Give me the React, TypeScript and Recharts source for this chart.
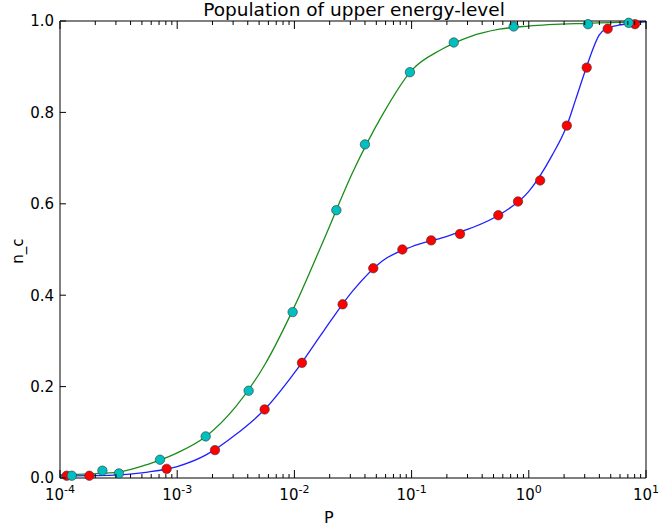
import { ComposedChart, Line, Scatter, XAxis, YAxis, ZAxis } from 'recharts'

// fitted curves (P, n_c)
const greenFitP = [1e-4, 1.78e-4, 3.16e-4, 5.62e-4, 1e-3, 1.78e-3, 3.16e-3, 5.62e-3, 1e-2, 1.78e-2, 3.16e-2, 5.62e-2, 0.1, 0.178, 0.316, 0.562, 1, 3.16, 10]
const greenFitN = [0.0066, 0.009, 0.013, 0.03, 0.055, 0.092, 0.156, 0.249, 0.375, 0.521, 0.67, 0.794, 0.892, 0.937, 0.966, 0.982, 0.989, 0.995, 0.998]

const blueFitP = [1e-4, 1.78e-4, 3.16e-4, 5.62e-4, 1e-3, 1.78e-3, 3.16e-3, 5.62e-3, 1e-2, 1.78e-2, 3.16e-2, 5.62e-2, 0.1, 0.178, 0.316, 0.562, 1, 1.58, 2.11, 2.51, 3.16, 3.63, 3.98, 4.47, 5.62, 7.94, 10]
const blueFitN = [0.004, 0.005, 0.007, 0.013, 0.025, 0.051, 0.095, 0.151, 0.23, 0.322, 0.41, 0.475, 0.506, 0.525, 0.546, 0.576, 0.627, 0.706, 0.771, 0.828, 0.905, 0.947, 0.969, 0.982, 0.99, 0.995, 0.999]

// measured points
const cyanP = [1.26e-4, 2.3e-4, 3.18e-4, 7.13e-4, 1.75e-3, 4.07e-3, 9.66e-3, 0.0228, 0.04, 0.0968, 0.229, 0.743, 3.2, 7.12]
const cyanN = [0.005, 0.016, 0.01, 0.04, 0.091, 0.191, 0.363, 0.586, 0.73, 0.888, 0.953, 0.988, 0.993, 0.996]

const redP = [1.14e-4, 1.78e-4, 8.13e-4, 2.1e-3, 5.57e-3, 0.0116, 0.0258, 0.0471, 0.0834, 0.147, 0.259, 0.549, 0.809, 1.25, 2.11, 3.12, 4.71, 8.05]
const redN = [0.005, 0.005, 0.02, 0.061, 0.15, 0.252, 0.38, 0.459, 0.5, 0.52, 0.534, 0.575, 0.605, 0.651, 0.771, 0.898, 0.983, 0.993]

const majorTicks = [1e-4, 1e-3, 1e-2, 1e-1, 1, 10]
const exponents = ['-4', '-3', '-2', '-1', '0', '1']
const yTicks = [0, 0.2, 0.4, 0.6, 0.8, 1.0]

const minorTicks = majorTicks.slice(0, -1).flatMap((d) => [2, 3, 4, 5, 6, 7, 8, 9].map((m) => m * d))
const xTicks = [...majorTicks, ...minorTicks]

const zip = (p: number[], n: number[]) => p.map((x, i) => ({ x, y: n[i] }))

const FONT = '"DejaVu Sans", sans-serif'

const BottomTick = (props: any) => {
  const { x, y, payload } = props
  const i = majorTicks.indexOf(payload.value)
  const len = i >= 0 ? 8 : 4
  return (
    <g>
      <line x1={x} y1={y} x2={x} y2={y - len} stroke="#000" strokeWidth={1} />
      {i >= 0 && (
        <text x={x} y={y + 22} textAnchor="middle" fontFamily={FONT} fontSize={15} fill="#000">
          <tspan>10</tspan>
          <tspan dy={-7} fontSize={11}>{exponents[i]}</tspan>
        </text>
      )}
    </g>
  )
}

const TopTick = (props: any) => {
  const { x, y, payload } = props
  const len = majorTicks.includes(payload.value) ? 8 : 4
  return <line x1={x} y1={y} x2={x} y2={y + len} stroke="#000" strokeWidth={1} />
}

const LeftTick = (props: any) => {
  const { x, y, payload } = props
  return (
    <g>
      <line x1={x} y1={y} x2={x + 6} y2={y} stroke="#000" strokeWidth={1} />
      <text x={x - 6} y={y} dy="0.36em" textAnchor="end" fontFamily={FONT} fontSize={15} fill="#000">
        {payload.value.toFixed(1)}
      </text>
    </g>
  )
}

const RightTick = (props: any) => {
  const { x, y } = props
  return <line x1={x} y1={y} x2={x - 6} y2={y} stroke="#000" strokeWidth={1} />
}

export default function App() {
  return (
    <div style={{ position: 'absolute', left: 0, top: 0, width: 659, height: 529, background: '#fff' }}>
      <ComposedChart width={659} height={529} margin={{ top: 0, right: 0, bottom: 0, left: 0 }}>
        <XAxis
          xAxisId="b"
          dataKey="x"
          type="number"
          scale="log"
          domain={[1e-4, 10]}
          allowDataOverflow
          ticks={xTicks}
          interval={0}
          tickSize={0}
          tickMargin={0}
          height={51}
          orientation="bottom"
          axisLine={{ stroke: '#000', strokeWidth: 1 }}
          tick={<BottomTick />}
        />
        <XAxis
          xAxisId="t"
          dataKey="x"
          type="number"
          scale="log"
          domain={[1e-4, 10]}
          allowDataOverflow
          ticks={xTicks}
          interval={0}
          tickSize={0}
          tickMargin={0}
          height={21}
          orientation="top"
          axisLine={{ stroke: '#000', strokeWidth: 1 }}
          tick={<TopTick />}
        />
        <YAxis
          yAxisId="l"
          type="number"
          domain={[0, 1]}
          ticks={yTicks}
          interval={0}
          tickSize={0}
          tickMargin={0}
          width={60}
          axisLine={{ stroke: '#000', strokeWidth: 1 }}
          tick={<LeftTick />}
        />
        <YAxis
          yAxisId="r"
          orientation="right"
          type="number"
          domain={[0, 1]}
          ticks={yTicks}
          interval={0}
          tickSize={0}
          tickMargin={0}
          width={13}
          axisLine={{ stroke: '#000', strokeWidth: 1 }}
          tick={<RightTick />}
        />
        <ZAxis range={[70, 70]} />
        <Line
          xAxisId="b"
          yAxisId="l"
          data={zip(greenFitP, greenFitN)}
          dataKey="y"
          type="monotone"
          stroke="#1a8c1a"
          strokeWidth={1.3}
          dot={false}
          isAnimationActive={false}
        />
        <Line
          xAxisId="b"
          yAxisId="l"
          data={zip(blueFitP, blueFitN)}
          dataKey="y"
          type="monotone"
          stroke="#1f1fff"
          strokeWidth={1.3}
          dot={false}
          isAnimationActive={false}
        />
        <Scatter
          xAxisId="b"
          yAxisId="l"
          data={zip(redP, redN)}
          dataKey="y"
          fill="#ff0000"
          stroke="#333"
          strokeWidth={0.6}
          isAnimationActive={false}
        />
        <Scatter
          xAxisId="b"
          yAxisId="l"
          data={zip(cyanP, cyanN)}
          dataKey="y"
          fill="#00bfbf"
          stroke="#333"
          strokeWidth={0.6}
          isAnimationActive={false}
        />
      </ComposedChart>
      <svg width={659} height={529} style={{ position: 'absolute', left: 0, top: 0, pointerEvents: 'none' }}>
        <text x={354} y={16} textAnchor="middle" fontFamily={FONT} fontSize={18.5} fill="#000">
          Population of upper energy-level
        </text>
        <text x={324} y={523} fontFamily={FONT} fontSize={16} fill="#000">
          P
        </text>
        <text x={23} y={251} transform="rotate(-90 23 251)" textAnchor="middle" fontFamily={FONT} fontSize={15} fill="#000">
          n_c
        </text>
      </svg>
    </div>
  )
}
